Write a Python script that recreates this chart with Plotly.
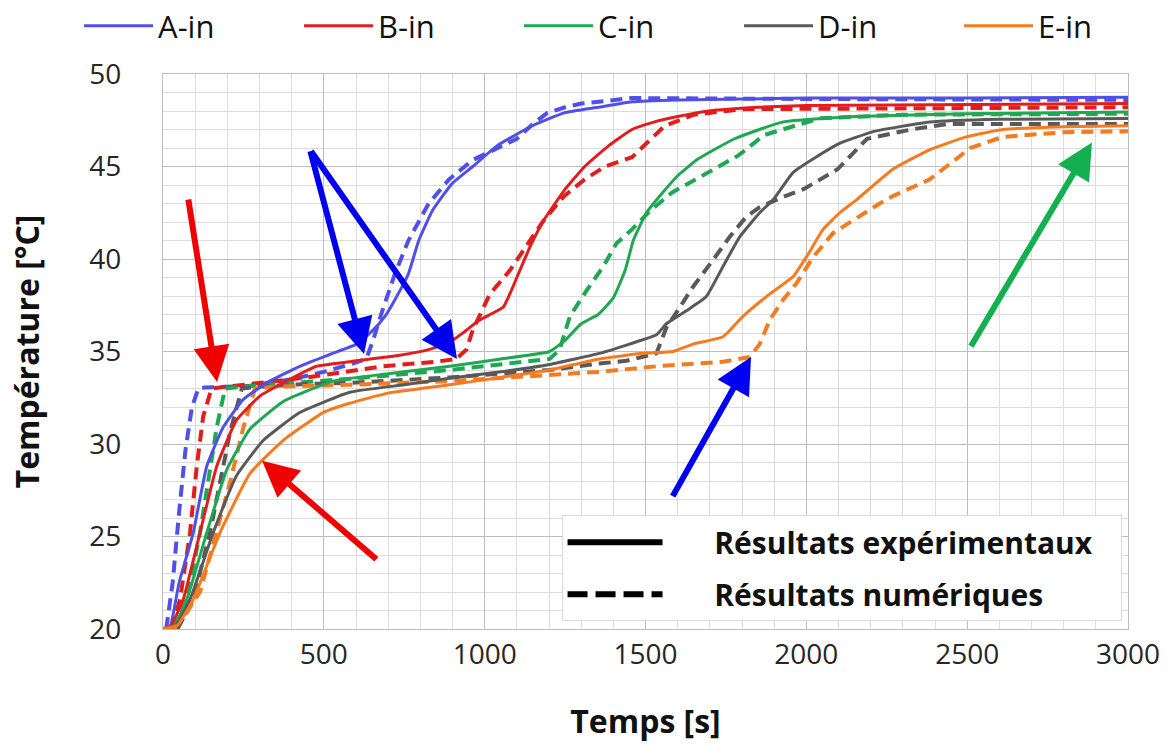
import plotly.graph_objects as go

# ---------------- data (time [s], temperature [°C]) ----------------
A_exp_t = [0, 20, 50, 94, 136, 187, 249, 322, 425, 520, 602, 650, 690, 721, 763, 795, 837, 900, 963, 1037, 1142, 1247, 1353, 1458, 1600, 1800, 2000, 2500, 3000]
A_exp_T = [20, 20.0, 22.5, 25.2, 28.8, 30.9, 32.4, 33.3, 34.2, 34.85, 35.4, 36.1, 36.9, 37.8, 39.2, 41.0, 42.6, 44.1, 45.0, 46.1, 47.15, 47.9, 48.2, 48.5, 48.6, 48.65, 48.7, 48.7, 48.75]
A_num_t = [10, 30, 50, 70, 90, 110, 130, 200, 270, 400, 500, 580, 632, 653, 679, 721, 763, 826, 889, 963, 1037, 1100, 1150, 1195, 1250, 1300, 1458, 1600, 2000, 3000]
A_num_T = [20, 22.5, 26.3, 29.7, 32.0, 33.0, 33.05, 33.1, 33.15, 33.5, 33.9, 34.3, 34.6, 35.6, 37.05, 39.2, 41.0, 43.0, 44.3, 45.35, 46.0, 46.5, 47.3, 47.9, 48.2, 48.4, 48.7, 48.7, 48.65, 48.6]

B_exp_t = [0, 25, 63, 115, 167, 229, 302, 395, 477, 580, 736, 826, 891, 932, 984, 1058, 1100, 1142, 1184, 1247, 1311, 1384, 1458, 1526, 1600, 1697, 1850, 2000, 3000]
B_exp_T = [20, 20.2, 21.6, 25.2, 28.8, 31.3, 32.6, 33.5, 34.2, 34.45, 34.8, 35.1, 35.5, 36.0, 36.7, 37.4, 39.0, 40.7, 42.1, 43.7, 45.0, 46.1, 47.0, 47.4, 47.7, 48.0, 48.2, 48.3, 48.4]
B_num_t = [25, 53, 84, 105, 125, 151, 200, 300, 450, 684, 850, 912, 943, 964, 1016, 1079, 1142, 1184, 1247, 1311, 1374, 1458, 1500, 1560, 1650, 1800, 3000]
B_num_T = [20, 21.6, 25.2, 28.8, 31.5, 33.0, 33.1, 33.3, 33.6, 34.2, 34.45, 34.6, 35.1, 36.2, 38.1, 39.4, 41.0, 42.1, 43.4, 44.3, 45.0, 45.5, 46.2, 47.2, 47.8, 48.1, 48.2]

C_exp_t = [0, 35, 74, 136, 198, 270, 374, 529, 700, 891, 1050, 1202, 1250, 1300, 1353, 1400, 1437, 1462, 1503, 1549, 1600, 1663, 1777, 1926, 2154, 2500, 3000]
C_exp_T = [20, 20.2, 21.6, 25.2, 28.6, 30.8, 32.3, 33.4, 33.8, 34.2, 34.6, 35.0, 35.6, 36.5, 37.0, 37.9, 39.4, 41.0, 42.5, 43.5, 44.5, 45.4, 46.5, 47.4, 47.7, 47.85, 47.95]
C_num_t = [35, 74, 115, 146, 167, 193, 250, 400, 600, 891, 1050, 1202, 1233, 1265, 1317, 1369, 1410, 1458, 1514, 1583, 1697, 1789, 1869, 2040, 2300, 3000]
C_num_T = [20, 21.6, 25.2, 28.8, 30.9, 33.0, 33.1, 33.3, 33.55, 34.0, 34.3, 34.6, 35.1, 36.9, 38.3, 39.6, 40.85, 41.6, 42.6, 43.6, 44.7, 45.6, 46.7, 47.6, 47.8, 47.85]

D_exp_t = [0, 40, 84, 156, 229, 312, 425, 581, 750, 891, 1050, 1202, 1357, 1450, 1534, 1565, 1627, 1689, 1741, 1793, 1855, 1897, 1960, 2097, 2211, 2383, 2600, 3000]
D_exp_T = [20, 20.2, 21.6, 25.2, 28.3, 30.2, 31.7, 32.8, 33.2, 33.55, 33.9, 34.3, 34.9, 35.4, 35.9, 36.5, 37.2, 37.97, 39.6, 41.2, 42.5, 43.2, 44.7, 46.2, 46.9, 47.4, 47.55, 47.6]
D_num_t = [45, 94, 146, 177, 208, 245, 300, 450, 580, 891, 1202, 1357, 1441, 1534, 1545, 1565, 1596, 1648, 1710, 1762, 1814, 1855, 1920, 1994, 2097, 2189, 2326, 2440, 3000]
D_num_T = [20, 21.6, 25.2, 27.9, 30.6, 33.0, 33.1, 33.25, 33.3, 33.6, 34.0, 34.35, 34.5, 34.9, 35.4, 36.3, 37.1, 38.5, 39.95, 41.2, 42.3, 42.8, 43.3, 43.8, 44.85, 46.5, 47.0, 47.3, 47.3]

E_exp_t = [0, 45, 94, 177, 270, 374, 498, 580, 700, 891, 1050, 1202, 1357, 1493, 1586, 1648, 1741, 1803, 1876, 1959, 2000, 2052, 2104, 2156, 2269, 2383, 2497, 2611, 2800, 3000]
E_exp_T = [20, 20.2, 21.6, 25.2, 28.4, 30.2, 31.7, 32.2, 32.75, 33.2, 33.6, 34.0, 34.6, 34.9, 35.0, 35.4, 35.8, 36.9, 37.97, 39.05, 40.1, 41.6, 42.5, 43.2, 44.85, 45.9, 46.6, 47.0, 47.15, 47.2]
E_num_t = [32, 70, 115, 167, 208, 250, 286, 350, 580, 891, 1202, 1357, 1534, 1741, 1824, 1855, 1886, 1928, 1970, 2021, 2083, 2145, 2228, 2269, 2383, 2451, 2509, 2611, 2800, 3000]
E_num_T = [20, 20.8, 22.0, 25.2, 27.9, 30.9, 33.0, 33.1, 33.2, 33.4, 33.7, 33.9, 34.2, 34.45, 34.7, 35.4, 36.7, 37.8, 38.7, 40.1, 41.4, 42.1, 43.0, 43.4, 44.3, 45.2, 46.0, 46.6, 46.85, 46.9]

series_names = ["A-in", "B-in", "C-in", "D-in", "E-in"]
series_colors = ["#5050E6", "#E01E1E", "#1FA752", "#595959", "#F47B20"]
exp_data = [(A_exp_t, A_exp_T), (B_exp_t, B_exp_T), (C_exp_t, C_exp_T), (D_exp_t, D_exp_T), (E_exp_t, E_exp_T)]
num_data = [(A_num_t, A_num_T), (B_num_t, B_num_T), (C_num_t, C_num_T), (D_num_t, D_num_T), (E_num_t, E_num_T)]

legend2_labels = ["Résultats expérimentaux", "Résultats numériques"]
x_ticks = [0, 500, 1000, 1500, 2000, 2500, 3000]
y_ticks = [20, 25, 30, 35, 40, 45, 50]

# arrows: (tail_t, tail_T, tip_t, tip_T, color)
arrows = [
    (78, 43.3, 168, 33.35, "#F00000"),
    (668, 23.7, 308, 29.1, "#F00000"),
    (457, 45.9, 625, 34.86, "#0000F0"),
    (457, 45.9, 914, 34.6, "#0000F0"),
    (1582, 27.1, 1828, 34.7, "#0000F0"),
    (2509, 35.2, 2888, 46.3, "#12B04E"),
]

fig = go.Figure()

for name, color, (t, T) in zip(series_names, series_colors, num_data):
    fig.add_trace(go.Scatter(x=t, y=T, mode="lines", name=name + " num",
                             line=dict(color=color, width=4, dash="12px,7px"),
                             showlegend=False))
for name, color, (t, T) in zip(series_names, series_colors, exp_data):
    fig.add_trace(go.Scatter(x=t, y=T, mode="lines", name=name,
                             line=dict(color=color, width=3, shape="spline", smoothing=0.4),
                             legend="legend"))

# second legend (line styles)
pad = "\u00a0" * 6
tail = "\u00a0" * 3
fig.add_trace(go.Scatter(x=[None], y=[None], mode="lines", name=pad + "<b>" + legend2_labels[0] + "</b>" + tail,
                         line=dict(color="black", width=6), legend="legend2", legendgroup="g1"))
fig.add_trace(go.Scatter(x=[None], y=[None], mode="lines", name=pad + "<b>" + legend2_labels[1] + "</b>",
                         line=dict(color="black", width=6, dash="20px,8px"), legend="legend2", legendgroup="g2"))

for (ax, ay, x, y, c) in arrows:
    fig.add_annotation(x=x, y=y, ax=ax, ay=ay, xref="x", yref="y", axref="x", ayref="y",
                       showarrow=True, arrowhead=2, arrowsize=1.2, arrowwidth=6,
                       arrowcolor=c, text="")

tick_font = dict(family="Open Sans, Lato, sans-serif", size=28, color="#262626")
title_font = dict(family="Open Sans, Lato, sans-serif", size=32, color="#111111")

fig.update_xaxes(range=[0, 3000], tickvals=x_ticks, tickfont=tick_font,
                 showgrid=True, gridcolor="#BDBDBD", gridwidth=1.3,
                 minor=dict(dtick=100, showgrid=True, gridcolor="#DCDCDC", gridwidth=1),
                 showline=True, linecolor="#BDBDBD", linewidth=1, mirror=True,
                 zeroline=False, ticks="", ticklabelstandoff=0,
                 title=dict(text="<b>Temps [s]</b>", font=title_font, standoff=40))
fig.update_yaxes(range=[20, 50], tickvals=y_ticks, tickfont=tick_font,
                 showgrid=True, gridcolor="#BDBDBD", gridwidth=1.3,
                 minor=dict(dtick=1, showgrid=True, gridcolor="#DCDCDC", gridwidth=1),
                 showline=True, linecolor="#BDBDBD", linewidth=1, mirror=True,
                 zeroline=False, ticks="", ticklabelstandoff=35,
                 title=dict(text="<b>Température [°C]</b>", font=title_font, standoff=40))

fig.update_layout(
    width=1174, height=748,
    margin=dict(l=163, r=46, t=74, b=119, autoexpand=False),
    paper_bgcolor="white", plot_bgcolor="white",
    legend=dict(orientation="h", x=-0.087, y=1.0865, xanchor="left", yanchor="middle",
                entrywidth=136, entrywidthmode="pixels",
                font=dict(family="Open Sans, Lato, sans-serif", size=31, color="#111111"),
                bgcolor="rgba(0,0,0,0)", itemwidth=69, tracegroupgap=0),
    legend2=dict(x=0.413, y=0.205, xanchor="left", yanchor="top",
                 bgcolor="white", bordercolor="#D9D9D9", borderwidth=1,
                 font=dict(family="Open Sans, Lato, sans-serif", size=30, color="#111111"),
                 itemwidth=95, tracegroupgap=10),
    showlegend=True,
)

# remove the default 8px page margin so the figure fills the window exactly
fig.write_html("out.html", config={"displayModeBar": False},
               post_script="document.body.style.margin='0';")
